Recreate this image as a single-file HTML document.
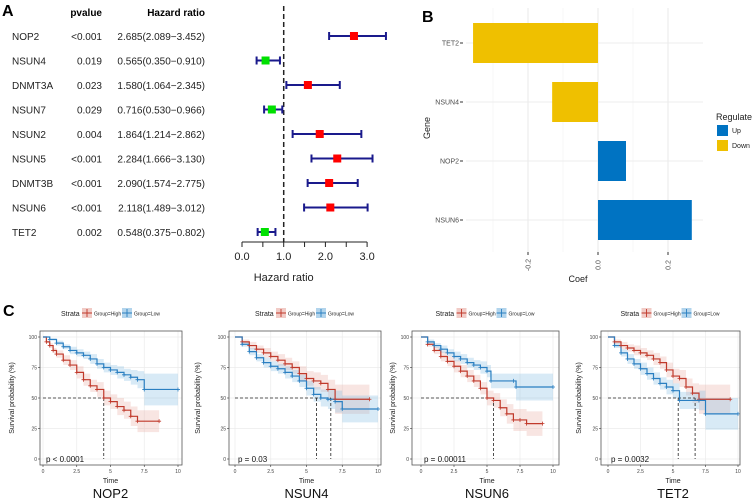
<!DOCTYPE html>
<html><head><meta charset="utf-8"><style>
html,body{margin:0;padding:0;background:#fff;}
svg{display:block;font-family:"Liberation Sans",sans-serif;}
</style></head><body>
<svg id="fig" width="753" height="501" viewBox="0 0 753 501">
<g id="panelA">
<text x="2" y="16" font-size="16" font-weight="bold">A</text>
<text x="102" y="16" font-size="10" font-weight="bold" text-anchor="end">pvalue</text>
<text x="205" y="16" font-size="10" font-weight="bold" text-anchor="end">Hazard ratio</text>
</g>
<g id="panelB">
<text x="422" y="22" font-size="16" font-weight="bold">B</text>
</g>
<g id="panelC">
<text x="3" y="316" font-size="16" font-weight="bold">C</text>
</g>
</svg>
<script>
// ---------- Panel A data ----------
const fGenes=["NOP2","NSUN4","DNMT3A","NSUN7","NSUN2","NSUN5","DNMT3B","NSUN6","TET2"];
const fP=["<0.001","0.019","0.023","0.029","0.004","<0.001","<0.001","<0.001","0.002"];
const fHR=[2.685,0.565,1.580,0.716,1.864,2.284,2.090,2.118,0.548];
const fLo=[2.089,0.350,1.064,0.530,1.214,1.666,1.574,1.489,0.375];
const fHi=[3.452,0.910,2.345,0.966,2.862,3.130,2.775,3.012,0.802];
const fTicks=[0,0.5,1,1.5,2,2.5,3];
const fTickLabels=["0.0","1.0","2.0","3.0"];
// ---------- Panel B data ----------
const bGenes=["TET2","NSUN4","NOP2","NSUN6"];
const bCoef=[-0.357,-0.131,0.080,0.268];
const bTicks=[-0.2,0,0.2];
const bMinor=[-0.3,-0.1,0.1];
// ---------- Panel C data ----------
const kmTitles=["NOP2","NSUN4","NSUN6","TET2"];
const kmP=["p < 0.0001","p = 0.03","p = 0.00011","p = 0.0032"];
const highT=[
 [0,0.25,0.5,0.75,1,1.5,2,2.5,3,3.5,4,4.5,5,5.5,6,6.5,7,8.6],
 [0,0.5,1,1.5,2,2.5,3,3.5,4,4.5,5,5.5,6,6.5,7,9.4],
 [0,0.5,1,1.5,2,2.5,3,3.5,4,4.5,5,5.5,6,6.5,7,7.5,8,9.2],
 [0,0.5,1,1.5,2,2.5,3,3.5,4,4.5,5,5.5,6,6.5,7,9.4]];
const highS=[
 [100,96,93,89,86,81,77,71,65,60,57,50,47,43,40,35,31,31],
 [100,96,93,90,87,84,81,78,75,70,66,64,62,57,49,49],
 [100,94,89,84,80,76,72,68,64,58,50,48,42,37,32,32,29,29],
 [100,96,93,91,89,87,85,82,79,73,68,66,59,54,49,49]];
const highCI=[
 [0,1,2,2,3,4,4,5,5,5,6,6,6,7,7,8,9,9],
 [0,2,3,3,4,4,5,5,5,6,6,7,7,8,12,12],
 [0,2,3,4,4,5,5,5,5,5,6,6,7,8,9,9,10,10],
 [0,2,3,3,4,4,4,5,5,6,6,7,7,8,12,12]];
const lowT=[
 [0,0.5,1,1.5,2,2.5,3,3.5,4,4.5,5,5.5,6,6.5,7,7.5,10],
 [0,0.5,1,1.5,2,2.5,3,3.5,4,4.5,5,5.5,6,6.5,7,7.5,10],
 [0,0.5,1,1.5,2,2.5,3,3.5,4,4.5,5,5.3,7,7.2,10],
 [0,0.5,1,1.5,2,2.5,3,3.5,4,4.5,5,5.5,7,7.5,10]];
const lowS=[
 [100,98,95,92,89,87,85,82,78,75,73,71,69,67,65,57,57],
 [100,94,88,83,79,76,74,71,68,64,58,53,50,49,47,41,41],
 [100,96,93,90,87,84,82,79,77,75,72,64,64,59,59],
 [100,93,87,82,78,74,70,66,62,59,56,48,48,37,37]];
const lowCI=[
 [0,1,2,2,3,3,3,4,4,4,4,5,5,6,7,13,13],
 [0,2,3,3,4,4,4,5,5,5,6,6,7,8,9,11,11],
 [0,2,2,3,3,4,4,4,4,5,5,6,6,11,11],
 [0,2,3,4,4,5,5,5,5,6,6,7,8,13,13]];
const medHigh=[4.5,6.7,5.5,6.7];
const medLow=[null,5.7,null,5.4];
const kmXTicks=[0,2.5,5,7.5,10];
const kmXLabels=["0","2.5","5","7.5","10"];
const kmYTicks=[0,25,50,75,100];

const NS="http://www.w3.org/2000/svg";
function mk(parent,tag,attrs,text){const e=document.createElementNS(NS,tag);for(const k in attrs)e.setAttribute(k,attrs[k]);if(text!==undefined)e.textContent=text;parent.appendChild(e);return e;}

// ---------- Panel A ----------
(function(){
 const g=document.getElementById('panelA');
 const xA=v=>242+v*41.7;
 const yA=i=>36+i*24.5;
 let e=mk(g,'line',{x1:xA(1),x2:xA(1),y1:6,y2:242,stroke:'#222','stroke-width':1.5,'stroke-dasharray':'5,3'});
 
 
 fGenes.forEach((gn,i)=>{
  const y=yA(i);
  let t=mk(g,'text',{x:12,y:y+4,'font-size':10,fill:'#222'},gn);
  
  
  t=mk(g,'text',{x:102,y:y+4,'font-size':10,fill:'#222','text-anchor':'end'},fP[i]);
  
  
  t=mk(g,'text',{x:205,y:y+4,'font-size':10,fill:'#222','text-anchor':'end'},fHR[i].toFixed(3)+'('+fLo[i].toFixed(3)+'\u2212'+fHi[i].toFixed(3)+')');
  
  
  const b=mk(g,'g',{});
  
  
  mk(b,'line',{x1:xA(fLo[i]),x2:xA(fHi[i]),y1:y,y2:y,stroke:'#1a1a8c','stroke-width':2});
  mk(b,'line',{x1:xA(fLo[i]),x2:xA(fLo[i]),y1:y-4,y2:y+4,stroke:'#1a1a8c','stroke-width':2});
  mk(b,'line',{x1:xA(fHi[i]),x2:xA(fHi[i]),y1:y-4,y2:y+4,stroke:'#1a1a8c','stroke-width':2});
  const m=mk(g,'rect',{x:xA(fHR[i])-4,y:y-4,width:8,height:8,fill:fHR[i]>1?'#ff0000':'#00e000'});
  
  
 });
 e=mk(g,'line',{x1:xA(0),x2:xA(3),y1:242,y2:242,stroke:'#222','stroke-width':1});
 
 
 fTicks.forEach(v=>{mk(g,'line',{x1:xA(v),x2:xA(v),y1:242,y2:247,stroke:'#222'});});
 fTickLabels.forEach(l=>{
  const t=mk(g,'text',{x:xA(parseFloat(l)),y:260,'font-size':11,'text-anchor':'middle',fill:'#222'},l);
  
  
 });
 e=mk(g,'text',{x:xA(1),y:281,'font-size':11,'text-anchor':'middle',fill:'#222'},'Hazard ratio');
 
 
})();

// ---------- Panel B ----------
(function(){
 const g=document.getElementById('panelB');
 const xB=v=>598+v*350;
 const yB=i=>43+i*59;
 const L=462,R=703,T=8,Bt=252;
 bMinor.forEach(v=>mk(g,'line',{x1:xB(v),x2:xB(v),y1:T,y2:Bt,stroke:'#f2f2f2','stroke-width':0.6}));
 bTicks.forEach(v=>mk(g,'line',{x1:xB(v),x2:xB(v),y1:T,y2:Bt,stroke:'#e8e8e8','stroke-width':1}));
 bGenes.forEach((gn,i)=>mk(g,'line',{x1:L+4,x2:R,y1:yB(i),y2:yB(i),stroke:'#ececec','stroke-width':1}));
 bGenes.forEach((gn,i)=>{
  const v=bCoef[i];
  const r=mk(g,'rect',{x:Math.min(xB(0),xB(v)),y:yB(i)-20,width:Math.abs(xB(v)-xB(0)),height:40,fill:v<0?'#efc000':'#0073c2'});
  
  
  const t=mk(g,'text',{x:459,y:yB(i)+2.5,'font-size':7,fill:'#4d4d4d','text-anchor':'end'},gn);
  
  
  mk(g,'line',{x1:460,x2:463,y1:yB(i),y2:yB(i),stroke:'#333'});
 });
 bTicks.forEach(v=>{
  mk(g,'line',{x1:xB(v),x2:xB(v),y1:Bt,y2:Bt+3,stroke:'#333'});
  const t=mk(g,'text',{x:0,y:0,'font-size':7,fill:'#4d4d4d','text-anchor':'middle',transform:'translate('+(xB(v)+2.5)+','+(Bt+13)+') rotate(-90)'},v.toFixed(1));
  
  
 });
 let t=mk(g,'text',{x:578,y:282,'font-size':9,'text-anchor':'middle',fill:'#222'},'Coef');
 
 
 t=mk(g,'text',{x:0,y:0,'font-size':9,'text-anchor':'middle',fill:'#222',transform:'translate(430,128) rotate(-90)'},'Gene');
 
 
 t=mk(g,'text',{x:716,y:120,'font-size':9,fill:'#222'},'Regulate');
 
 
 const lg=[['Up','#0073c2',125],['Down','#efc000',140]];
 lg.forEach(d=>{
  const e=mk(g,'g',{});
  
  
  mk(e,'rect',{x:717,y:d[2],width:11,height:11,fill:d[1]});
  mk(e,'text',{x:732,y:d[2]+8,'font-size':7,fill:'#222'},d[0]);
 });
})();

// ---------- Panel C ----------
(function(){
 const g=document.getElementById('panelC');
 const panels=[{f0:40,f1:182,x0:43,x1:178,ly:14},{f0:229,f1:381,x0:235,x1:378,ly:200},{f0:412,f1:559,x0:421,x1:553,ly:395},{f0:601,f1:740,x0:608,x1:738,ly:581}];
 const yTop=331,yBot=465;
 const yK=v=>459-v*1.22;
 panels.forEach((p,k)=>{
  const pg=mk(g,'g',{});
  
  
  const xK=v=>p.x0+v*(p.x1-p.x0)/10;
  kmXTicks.forEach(v=>mk(pg,'line',{x1:xK(v),x2:xK(v),y1:yTop,y2:yBot,stroke:'#ebebeb','stroke-width':0.7}));
  kmYTicks.forEach(v=>mk(pg,'line',{x1:p.f0,x2:p.f1,y1:yK(v),y2:yK(v),stroke:'#ebebeb','stroke-width':0.7}));
  function stepPath(T,S){let d='M'+xK(T[0])+','+yK(S[0]);for(let i=1;i<T.length;i++){d+='H'+xK(T[i])+'V'+yK(S[i]);}return d;}
  function band(T,S,C,col,name){
   let up=[],lo=[];
   for(let i=0;i<T.length;i++){const tn=i<T.length-1?T[i+1]:T[i];up.push([xK(T[i]),yK(Math.min(100,S[i]+C[i]))],[xK(tn),yK(Math.min(100,S[i]+C[i]))]);lo.push([xK(T[i]),yK(S[i]-C[i])],[xK(tn),yK(S[i]-C[i])]);}
   const pts=up.concat(lo.reverse()).map(q=>q.join(',')).join(' ');
   const e=mk(pg,'polygon',{points:pts,fill:col,'fill-opacity':0.3});
   
   
  }
  band(highT[k],highS[k],highCI[k],'#e7a8a0','ci-band-high');
  band(lowT[k],lowS[k],lowCI[k],'#7fb8e0','ci-band-low');
  const meds=[medHigh[k],medLow[k]].filter(v=>v!==null);
  const mx=Math.max(...meds);
  let e=mk(pg,'line',{x1:xK(0),x2:xK(mx),y1:yK(50),y2:yK(50),stroke:'#222','stroke-dasharray':'3,2','stroke-width':0.8});
  
  
  meds.forEach(m=>mk(pg,'line',{x1:xK(m),x2:xK(m),y1:yK(50),y2:yK(0),stroke:'#222','stroke-dasharray':'3,2','stroke-width':0.8}));
  e=mk(pg,'path',{d:stepPath(highT[k],highS[k]),fill:'none',stroke:'#c0392b','stroke-width':1.2});
  
  
  e=mk(pg,'path',{d:stepPath(lowT[k],lowS[k]),fill:'none',stroke:'#2a7fc1','stroke-width':1.2});
  
  
  [[highT[k],highS[k],'#c0392b'],[lowT[k],lowS[k],'#2a7fc1']].forEach(c=>{
   for(let i=1;i<c[0].length;i++){const x=xK(c[0][i]),y=yK(c[1][i]);mk(pg,'path',{d:'M'+(x-2)+','+y+'h4M'+x+','+(y-2)+'v4',stroke:c[2],'stroke-width':0.8});}
  });
  mk(pg,'rect',{x:p.f0,y:yTop,width:p.f1-p.f0,height:yBot-yTop,fill:'none',stroke:'#555','stroke-width':0.8});
  kmYTicks.forEach(v=>{mk(pg,'line',{x1:p.f0-2,x2:p.f0,y1:yK(v),y2:yK(v),stroke:'#333','stroke-width':0.6});
   mk(pg,'text',{x:p.f0-3,y:yK(v)+2,'font-size':5,fill:'#444','text-anchor':'end'},String(v));});
  kmXTicks.forEach((v,i)=>{mk(pg,'line',{x1:xK(v),x2:xK(v),y1:yBot,y2:yBot+2,stroke:'#333','stroke-width':0.6});
   mk(pg,'text',{x:xK(v),y:yBot+8,'font-size':5,fill:'#444','text-anchor':'middle'},kmXLabels[i]);});
  e=mk(pg,'text',{x:(p.x0+p.x1)/2,y:483,'font-size':7,'text-anchor':'middle',fill:'#222'},'Time');
  
  
  e=mk(pg,'text',{x:0,y:0,'font-size':7,'text-anchor':'middle',fill:'#222',transform:'translate('+p.ly+',398) rotate(-90)'},'Survival probability (%)');
  
  
  e=mk(pg,'text',{x:p.x0+3,y:462,'font-size':8,fill:'#111'},kmP[k]);
  
  
  e=mk(pg,'text',{x:(p.x0+p.x1)/2,y:498,'font-size':13,'text-anchor':'middle',fill:'#111'},kmTitles[k]);
  
  
  const lx=(p.f0+p.f1)/2-50;
  const lg=mk(pg,'g',{});
  
  
  mk(lg,'text',{x:lx,y:316,'font-size':7,fill:'#222'},'Strata');
  mk(lg,'rect',{x:lx+21,y:308,width:10,height:10,fill:'#e7a8a0','fill-opacity':0.6});
  mk(lg,'path',{d:'M'+(lx+21)+',313h10M'+(lx+26)+',309v8',stroke:'#c0392b','stroke-width':0.9});
  mk(lg,'text',{x:lx+33,y:315.5,'font-size':5,fill:'#222'},'Group=High');
  mk(lg,'rect',{x:lx+61,y:308,width:10,height:10,fill:'#7fb8e0','fill-opacity':0.6});
  mk(lg,'path',{d:'M'+(lx+61)+',313h10M'+(lx+66)+',309v8',stroke:'#2a7fc1','stroke-width':0.9});
  mk(lg,'text',{x:lx+73,y:315.5,'font-size':5,fill:'#222'},'Group=Low');
 });
})();
</script>
</body></html>
